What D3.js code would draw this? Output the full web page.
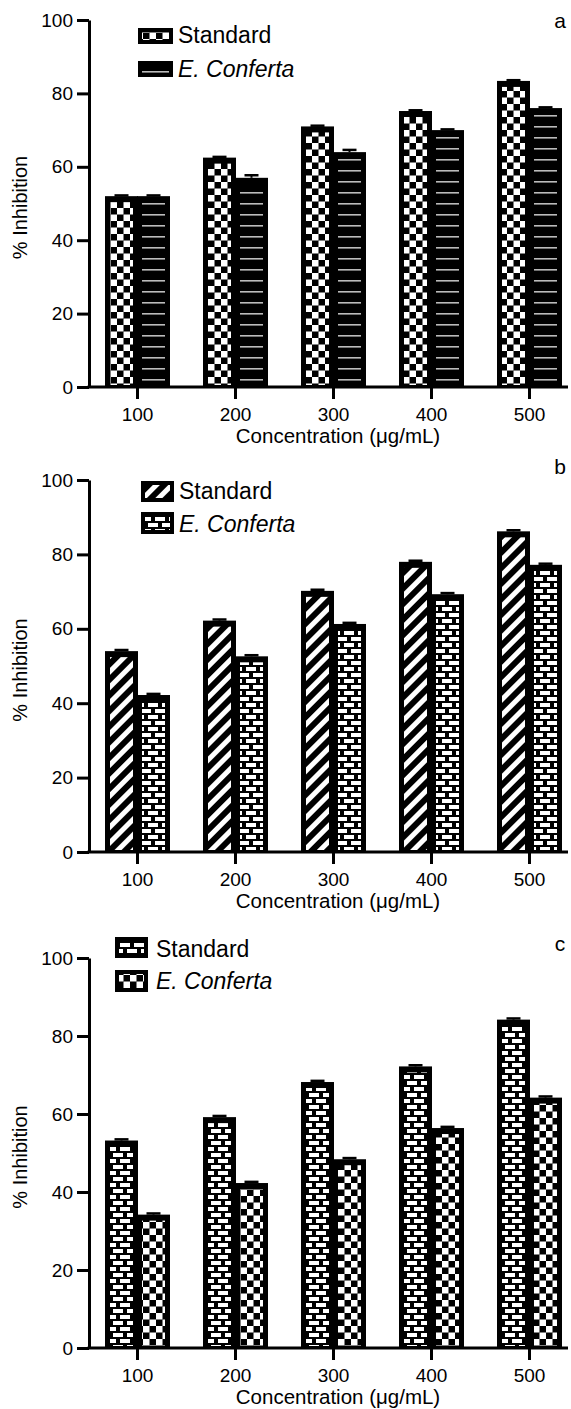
<!DOCTYPE html>
<html>
<head>
<meta charset="utf-8">
<script src="https://cdn.jsdelivr.net/npm/d3@7"></script>
<style>
  body { margin: 0; background: #fff; }
  svg { display: block; font-family: "Liberation Sans", Arial, sans-serif; }
  .axis path, .axis line { stroke: #000; stroke-width: 3; }
  .axis text { font-size: 19px; fill: #000; font-family: "Liberation Sans", Arial, sans-serif; }
</style>
</head>
<body>
<svg id="chart" width="571" height="1409"></svg>
<script>
// data
var categories = ["100", "200", "300", "400", "500"]
var yTicks = [0, 20, 40, 60, 80, 100]
var seriesNames = ["Standard", "E. Conferta"]

var standardA = [52.0, 62.5, 71.0, 75.2, 83.4]
var confertaA = [52.0, 57.0, 64.0, 70.0, 76.0]
var errStandardA = [0.2, 0.2, 0.2, 0.2, 0.2]
var errConfertaA = [0.2, 0.7, 0.6, 0.2, 0.2]

var standardB = [54.0, 62.2, 70.2, 78.0, 86.2]
var confertaB = [42.2, 52.6, 61.3, 69.3, 77.2]
var errStandardB = [0.3, 0.3, 0.3, 0.3, 0.3]
var errConfertaB = [0.3, 0.3, 0.3, 0.3, 0.3]

var standardC = [53.2, 59.2, 68.2, 72.2, 84.2]
var confertaC = [34.2, 42.3, 48.4, 56.4, 64.2]
var errStandardC = [0.3, 0.3, 0.3, 0.3, 0.3]
var errConfertaC = [0.3, 0.3, 0.3, 0.3, 0.3]

var svg = d3.select("#chart")
var defs = svg.append("defs")

// ---- fill patterns ----
var checker = defs.append("pattern").attr("id", "checker")
    .attr("patternUnits", "userSpaceOnUse").attr("width", 13).attr("height", 13)
checker.append("rect").attr("width", 13).attr("height", 13).attr("fill", "#000")
checker.append("rect").attr("x", 0).attr("y", 0).attr("width", 6.5).attr("height", 6.5).attr("fill", "#fff")
checker.append("rect").attr("x", 6.5).attr("y", 6.5).attr("width", 6.5).attr("height", 6.5).attr("fill", "#fff")

var hlines = defs.append("pattern").attr("id", "hlines")
    .attr("patternUnits", "userSpaceOnUse").attr("width", 40).attr("height", 11)
hlines.append("rect").attr("width", 40).attr("height", 11).attr("fill", "#000")
hlines.append("rect").attr("x", 0).attr("y", 5).attr("width", 40).attr("height", 1.6).attr("fill", "#bbb")

var diag = defs.append("pattern").attr("id", "diag")
    .attr("patternUnits", "userSpaceOnUse").attr("width", 11).attr("height", 11)
    .attr("patternTransform", "rotate(45)")
diag.append("rect").attr("width", 11).attr("height", 11).attr("fill", "#000")
diag.append("rect").attr("x", 0).attr("y", 0).attr("width", 5).attr("height", 11).attr("fill", "#fff")

var brick = defs.append("pattern").attr("id", "brick")
    .attr("patternUnits", "userSpaceOnUse").attr("width", 14).attr("height", 12)
brick.append("rect").attr("width", 14).attr("height", 12).attr("fill", "#000")
brick.append("rect").attr("x", 1).attr("y", 1).attr("width", 10).attr("height", 4).attr("fill", "#fff")
brick.append("rect").attr("x", 8).attr("y", 7).attr("width", 10).attr("height", 4).attr("fill", "#fff")
brick.append("rect").attr("x", -6).attr("y", 7).attr("width", 10).attr("height", 4).attr("fill", "#fff")

var panels = [
    {letter: "a", y0: 387, y100: 20, std: standardA, conf: confertaA, eStd: errStandardA, eConf: errConfertaA,
     patStd: "checker", patConf: "hlines",
     legend: {x: 138, w: 35, rows: [{y: 28, h: 16, base: 43}, {y: 61, h: 16, base: 77}], tx: 178}, letterY: 28},
    {letter: "b", y0: 852, y100: 480, std: standardB, conf: confertaB, eStd: errStandardB, eConf: errConfertaB,
     patStd: "diag", patConf: "brick",
     legend: {x: 141, w: 33, rows: [{y: 481, h: 21, base: 499}, {y: 512, h: 22, base: 532}], tx: 179}, letterY: 474},
    {letter: "c", y0: 1348, y100: 958, std: standardC, conf: confertaC, eStd: errStandardC, eConf: errConfertaC,
     patStd: "brick", patConf: "checker",
     legend: {x: 115, w: 33, rows: [{y: 937, h: 21, base: 957}, {y: 970, h: 22, base: 989}], tx: 156}, letterY: 951}
]

var xScale = d3.scalePoint().domain(categories).range([137, 529])
var barW = 33
var inset = 5
var axisX = 89

var drawBars = function(g, values, errs, pat, offset, yScale) {
    var rows = categories.map(function(c, i) { return {cat: c, v: values[i], e: errs[i]} })
    var bars = g.append("g")
    bars.selectAll("rect.outer").data(rows).enter().append("rect")
        .attr("class", "outer")
        .attr("x", function(d) { return xScale(d.cat) + offset })
        .attr("y", function(d) { return yScale(d.v) })
        .attr("width", barW)
        .attr("height", function(d) { return yScale(0) - yScale(d.v) })
        .attr("fill", "#000")
    bars.selectAll("rect.inner").data(rows).enter().append("rect")
        .attr("class", "inner")
        .attr("x", function(d) { return xScale(d.cat) + offset + inset })
        .attr("y", function(d) { return yScale(d.v) + inset + 1 })
        .attr("width", barW - 2 * inset)
        .attr("height", function(d) { return Math.max(0, yScale(0) - yScale(d.v) - inset - 3) })
        .attr("fill", "url(#" + pat + ")")
    // error bars (upper half visible)
    bars.selectAll("line.err").data(rows).enter().append("line")
        .attr("class", "err")
        .attr("x1", function(d) { return xScale(d.cat) + offset + barW / 2 })
        .attr("x2", function(d) { return xScale(d.cat) + offset + barW / 2 })
        .attr("y1", function(d) { return yScale(d.v) })
        .attr("y2", function(d) { return yScale(d.v + d.e) })
        .attr("stroke", "#000").attr("stroke-width", 2)
    bars.selectAll("line.cap").data(rows).enter().append("line")
        .attr("class", "cap")
        .attr("x1", function(d) { return xScale(d.cat) + offset + barW / 2 - 7 })
        .attr("x2", function(d) { return xScale(d.cat) + offset + barW / 2 + 7 })
        .attr("y1", function(d) { return yScale(d.v + d.e) })
        .attr("y2", function(d) { return yScale(d.v + d.e) })
        .attr("stroke", "#000").attr("stroke-width", 2.5)
}

var drawPanel = function(p) {
    var yScale = d3.scaleLinear().domain([0, 100]).range([p.y0, p.y100])
    var g = svg.append("g")

    drawBars(g, p.std, p.eStd, p.patStd, -barW + 1, yScale)
    drawBars(g, p.conf, p.eConf, p.patConf, 0, yScale)

    // y axis
    var yAxis = d3.axisLeft(yScale).tickValues(yTicks).tickSize(12).tickSizeOuter(0).tickPadding(4)
    g.append("g").attr("class", "axis")
        .attr("transform", "translate(" + axisX + ",0)")
        .call(yAxis)

    // x axis
    var xAxis = d3.axisBottom(xScale).tickSize(12).tickPadding(8.5)
    var xg = g.append("g").attr("class", "axis")
        .attr("transform", "translate(0," + p.y0 + ")")
        .call(xAxis)
    xg.select(".domain").remove()
    xg.append("line").attr("x1", axisX - 1.5).attr("x2", 568).attr("y1", 0).attr("y2", 0)

    // axis titles
    g.append("text")
        .attr("x", 338).attr("y", p.y0 + 56)
        .attr("text-anchor", "middle")
        .style("font-size", "20.5px")
        .text("Concentration (\u03bcg/mL)")
    g.append("text")
        .attr("transform", "translate(27," + ((p.y0 + p.y100) / 2 + 4) + ") rotate(-90)")
        .attr("text-anchor", "middle")
        .style("font-size", "20px")
        .text("% Inhibition")

    // panel letter
    g.append("text")
        .attr("x", 560).attr("y", p.letterY)
        .attr("text-anchor", "middle")
        .style("font-size", "21px")
        .text(p.letter)

    // legend
    var pats = [p.patStd, p.patConf]
    var lg = g.append("g")
    lg.selectAll("rect.sw").data(p.legend.rows).enter().append("rect")
        .attr("class", "sw")
        .attr("x", p.legend.x).attr("y", function(d) { return d.y })
        .attr("width", p.legend.w).attr("height", function(d) { return d.h })
        .attr("fill", "#000")
    lg.selectAll("rect.swin").data(p.legend.rows).enter().append("rect")
        .attr("class", "swin")
        .attr("x", p.legend.x + 4).attr("y", function(d) { return d.y + 4 })
        .attr("width", p.legend.w - 8).attr("height", function(d) { return d.h - 8 })
        .attr("fill", function(d, i) { return "url(#" + pats[i] + ")" })
    lg.selectAll("text").data(p.legend.rows).enter().append("text")
        .attr("x", p.legend.tx).attr("y", function(d) { return d.base })
        .style("font-size", "23px")
        .style("font-style", function(d, i) { return i == 1 ? "italic" : "normal" })
        .text(function(d, i) { return seriesNames[i] })
}

panels.forEach(drawPanel)
</script>
</body>
</html>
